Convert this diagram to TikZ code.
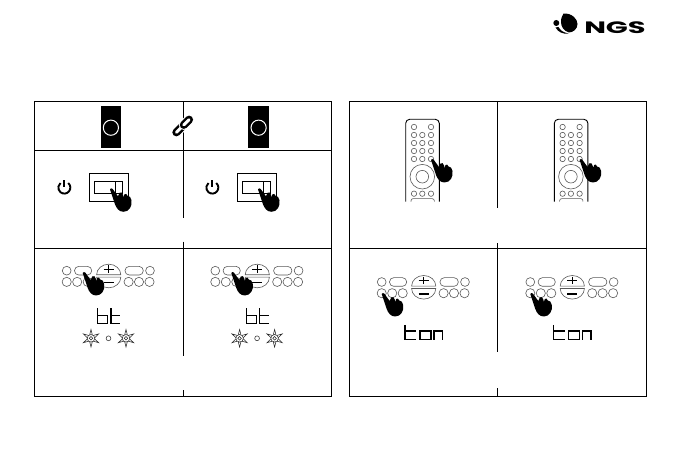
\documentclass[tikz,border=0pt]{standalone}
\usepackage{fontspec}
\setmainfont{Poppins}
\tikzset{
  frameline/.style={line width=1pt},
  btn/.style={draw=black!65,line width=.6pt,fill=white},
  digit/.style={line width=1.4pt,line cap=butt,line join=miter},
  hand/.pic={
    \fill[black] (0,0) .. controls (.5,-1.2) and (1.8,-1.2) .. (2.6,-.4) -- (8,7) -- (9.5,3.5) .. controls (11,2.5) and (12.5,3) .. (13,5.5)
      -- (13.6,8) -- (14.5,5) .. controls (15.5,4) and (17,4.5) .. (17.5,6.5)
      .. controls (19.5,6.5) and (21,8) .. (21.5,11) .. controls (22.5,17) and (19,22.5) .. (13.5,22.5)
      .. controls (9,22.5) and (6.5,19) .. (5,15) -- cycle;
  },
  panel/.pic={
    \foreach \x in {66.7,150}{\draw[btn] (\x,270.7) circle (4.4);}
    \draw[btn,rounded corners=4.2] (74.5,266.4) rectangle (91.7,275);
    \draw[btn,rounded corners=4.2] (125,266.4) rectangle (143.3,275);
    \foreach \x in {66.7,77.2,87.7,128.6,139,149.5}{\draw[btn] (\x,281.9) circle (4.6);}
    \draw[btn] (96.6,274.8) arc (180:360:12.1 and 10.6) -- cycle;
    \draw[btn] (96.6,277.2) arc (180:0:12.1 and 10.6) -- cycle;
  },
  panelsign/.pic={
    \draw[line width=1.1pt] (103.6,269.4) -- (113.8,269.4) (108.7,265.4) -- (108.7,273.2) (103.6,282.7) -- (113.8,282.7);
  },
  remote/.pic={
    \draw[line width=.9pt,rounded corners=4] (405.7,201.7) -- (405.7,119.3) -- (439.3,119.3) -- (439.3,201.7);
    \foreach \x/\y in {414/127,431/127,414/135,422.3/135,431/135,414/143,422.3/143,431/143,
      414/151,422.3/151,431/151,414/159,422.3/159,431/159,414/193.7,422.3/193.7,431/193.7}
      {\draw[btn] (\x,\y) circle (2.7);}
    \draw[btn] (422.3,176.7) circle (12.3);
    \draw[btn] (422.3,176.7) circle (6.3);
    \draw[btn,rounded corners=2] (411,201.7) -- (411,198.7) -- (434.3,198.7) -- (434.3,201.7);
  },
  sunburst/.pic={
    \foreach \a in {90,150,210,270,330,30}{
      \draw[black!85,line width=.55pt,line join=miter] (\a-20:3.8) -- (\a:8.8) -- (\a+20:3.8);
    }
    \draw[black!85,line width=.55pt] (0,0) circle (3.8);
    \draw[black!85,line width=.55pt] (0,0) circle (1.8);
  }
}
\begin{document}
\begin{tikzpicture}[x=1pt,y=-1pt,font=\bfseries]
\useasboundingbox (0,0) rectangle (680,454);
% frames
\draw[frameline] (34.5,101.3) rectangle (331.7,396.7);
\draw[frameline] (349.3,101.3) rectangle (646.7,396.7);
\draw[frameline] (34.5,151) -- (331.7,151);
\draw[frameline] (34.5,248.3) -- (331.7,248.3);
\draw[frameline] (349.3,249) -- (646.7,249);
\draw[frameline] (183.3,101.3) -- (183.3,218.3) (183.3,241.7) -- (183.3,355.7) (183.3,390) -- (183.3,396.7);
\draw[frameline] (497.3,101.3) -- (497.3,207.7) (497.3,243.3) -- (497.3,351.7) (497.3,388.3) -- (497.3,396.7);
% logo
\fill (563.5,13.5) .. controls (572,13) and (577.5,19) .. (577.5,24) .. controls (577.5,29) and (573,32.5) .. (569,32.5)
  .. controls (564,31) and (561,27) .. (561,22) .. controls (561,18) and (562,16) .. (563.5,13.5);
\fill (556.3,23) circle (3);
\fill (555.5,27.5) .. controls (558,32) and (563,34.5) .. (568.5,33.5) .. controls (563,32.5) and (560,30) .. (558.5,27) -- cycle;
\node[inner sep=0pt,font=\bfseries\fontsize{16.5}{16.5}\selectfont,xscale=1.75,transform shape] (logotext) at (615,27.5) {NGS};
% speakers
\foreach \x in {0,147.7}{
  \begin{scope}[shift={(\x,0)}]
    \fill (100.7,105.7) rectangle (121,148);
    \draw[white,line width=1pt] (110.9,127.7) circle (7.6);
  \end{scope}
}
% link
\begin{scope}[shift={(182.7,126)},rotate=45,line cap=round]
  \draw[white,line width=10pt] (-9,0) -- (-1.5,0);
  \draw[line width=8pt] (-9,0) -- (-1.5,0);
  \draw[white,line width=3pt] (-9,0) -- (-1.5,0);
  \draw[white,line width=10pt] (1.5,0) -- (9,0);
  \draw[line width=8pt] (1.5,0) -- (9,0);
  \draw[white,line width=3pt] (1.5,0) -- (9,0);
\end{scope}
% switches
\foreach \x in {0,148}{
  \begin{scope}[shift={(\x,0)}]
    \draw[line width=.9pt] (89.3,173.3) rectangle (128.7,201.7);
    \draw[line width=.8pt] (94.3,181.3) rectangle (122.7,193.7);
    \draw[line width=.8pt] (115.3,181.3) -- (115.3,193.7);
    \draw[line width=1.9pt] (68.2,183) arc (-50:230:6);
    \draw[line width=1.9pt] (64.3,180.2) -- (64.3,187.4);
    \pic at (110,189.3) {hand};
  \end{scope}
}
% panels with bt
\foreach \x in {0,148.6}{
  \begin{scope}[shift={(\x,0)}]
    \pic {panel};
    \pic {panelsign};
    \pic at (82.7,273) {hand};
    \draw[digit] (97.7,308.3) -- (97.7,323.8) -- (107.7,323.8) -- (107.7,315.4) -- (97.7,315.4);
    \draw[digit] (111,308.3) -- (111,323.8) -- (120.2,323.8) (111,315.4) -- (120.2,315.4);
    \pic at (91,338.3) {sunburst};
    \pic at (126,338.3) {sunburst};
    \draw[black!75,line width=.6pt] (108.5,338.3) circle (2.4);
  \end{scope}
}
% panels with ton
\foreach \x in {315,463.6}{
  \begin{scope}[shift={(\x,11.3)}]
    \pic {panel};
    \pic {panelsign};
    \pic at (66.7,282.7) {hand};
    \draw[digit] (90,313.7) -- (90,328) -- (101,328) (90,319.7) -- (101,319.7);
    \draw[digit] (105,319.7) -- (116,319.7) -- (116,328) -- (105,328) -- cycle;
    \draw[digit] (119,328.6) -- (119,319.7) -- (127.3,319.7) -- (127.3,328.6);
  \end{scope}
}
% remotes
\foreach \x in {0,148.6}{
  \begin{scope}[shift={(\x,0)}]
    \pic {remote};
    \pic at (431,160) {hand};
  \end{scope}
}
\end{tikzpicture}
\end{document}
